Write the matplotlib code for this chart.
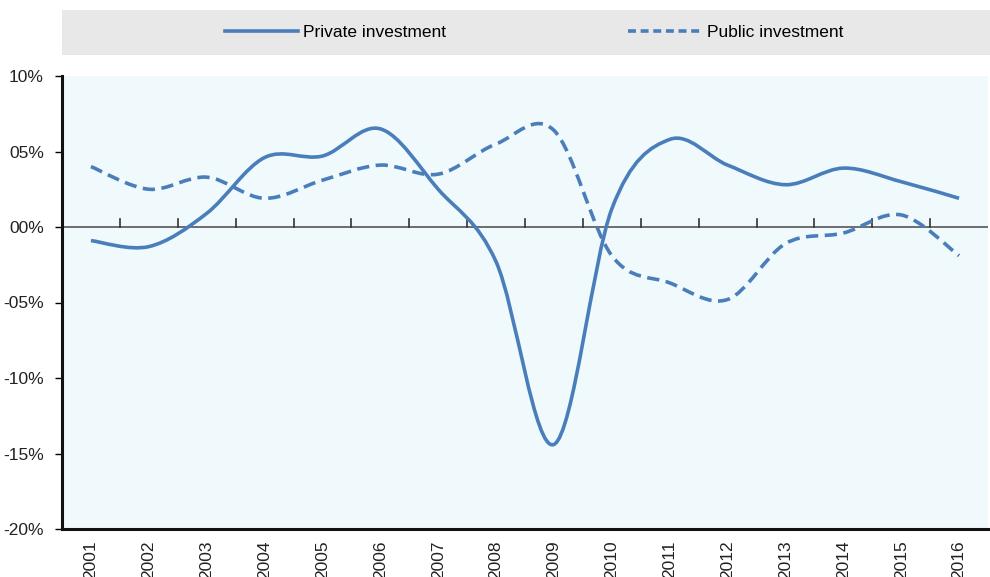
import matplotlib.pyplot as plt
import numpy as np
from matplotlib.path import Path
from matplotlib.patches import PathPatch, Rectangle
from matplotlib.lines import Line2D

plt.rcParams['font.family'] = ['Liberation Sans Narrow', 'Liberation Sans', 'DejaVu Sans']

years = ['2001', '2002', '2003', '2004', '2005', '2006', '2007', '2008',
         '2009', '2010', '2011', '2012', '2013', '2014', '2015', '2016']
private = [-0.9, -1.3, 0.9, 4.6, 4.7, 6.5, 2.5, -2.3,
           -14.4, 1.2, 5.8, 4.1, 2.8, 3.9, 3.0, 1.9]
public = [4.0, 2.5, 3.3, 1.9, 3.1, 4.1, 3.5, 5.5,
          6.4, -1.9, -3.7, -4.8, -1.1, -0.4, 0.8, -1.9]
ytick_labels = ['-20%', '-15%', '-10%', '-05%', '00%', '05%', '10%']

blue = '#4A7EBB'


# smooth line like Excel: Catmull-Rom as cubic Bezier path
def smooth_path(xs, ys):
    pts = np.column_stack([xs, ys]).astype(float)
    n = len(pts)
    verts = [pts[0]]
    codes = [Path.MOVETO]
    for i in range(n - 1):
        p0 = pts[max(i - 1, 0)]
        p1 = pts[i]
        p2 = pts[i + 1]
        p3 = pts[min(i + 2, n - 1)]
        c1 = p1 + (p2 - p0) / 6
        c2 = p2 - (p3 - p1) / 6
        verts += [c1, c2, p2]
        codes += [Path.CURVE4] * 3
    return Path(verts, codes)


fig = plt.figure(figsize=(9.9, 5.77), dpi=100)
ax = fig.add_axes([62 / 990, 1 - 529 / 577, 926 / 990, 453 / 577])
ax.set_facecolor('#F0FAFD')

x = np.arange(len(years))
ax.add_patch(PathPatch(smooth_path(x, private), fill=False, edgecolor=blue,
                       lw=2.6, capstyle='butt', zorder=3))
ax.add_patch(PathPatch(smooth_path(x, public), fill=False, edgecolor=blue,
                       lw=2.6, linestyle=(0, (3.4, 1.8)), capstyle='butt', zorder=3))

ax.set_xlim(-0.5, len(years) - 0.5)
ax.set_ylim(-20, 10)

# zero line with category ticks
ax.axhline(0, color='#555555', lw=1.2, zorder=2)
for b in np.arange(0.5, len(years) - 1, 1.0):
    ax.plot([b, b], [0, 0.55], color='#333333', lw=1.2, zorder=2)

ax.set_yticks([-20, -15, -10, -5, 0, 5, 10])
ax.set_yticklabels(ytick_labels, fontsize=12.5, color='#222222')
ax.set_xticks(x)
ax.set_xticklabels(years, rotation=90, fontsize=12.5, color='#222222')
ax.tick_params(axis='x', length=0, pad=8)
ax.tick_params(axis='y', length=5, width=1, direction='out', pad=8)

for s in ['top', 'right']:
    ax.spines[s].set_visible(False)
for s in ['left', 'bottom']:
    ax.spines[s].set_linewidth(2.2)
    ax.spines[s].set_color('#111111')

# legend band
fig.patches.append(Rectangle((62 / 990, 1 - 55 / 577), 928 / 990, 45 / 577,
                             transform=fig.transFigure, facecolor='#E8E8E8',
                             edgecolor='none', zorder=0))
handles = [Line2D([], [], color=blue, lw=2.6),
           Line2D([], [], color=blue, lw=2.6, linestyle=(0, (2.2, 1.3)))]
fig.legend(handles, ['Private investment', 'Public investment'],
           loc='center', bbox_to_anchor=(534 / 990, 1 - 32 / 577), ncol=2,
           frameon=False, fontsize=12.5, handlelength=4.2, handletextpad=0.3,
           columnspacing=10.5)

fig.savefig('out.png', dpi=100)
